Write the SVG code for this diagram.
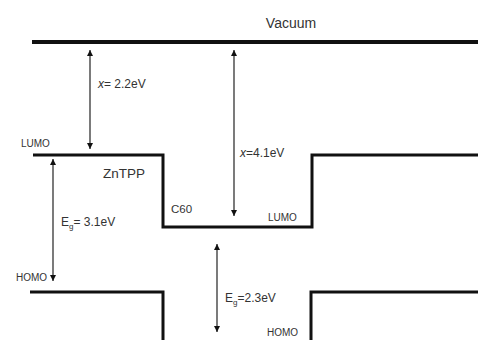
<svg xmlns="http://www.w3.org/2000/svg" width="478" height="340" viewBox="0 0 478 340">
<style>
text{font-family:"Liberation Sans",Arial,sans-serif;fill:#333}
.lvl{fill:none;stroke:#111;stroke-width:3}
.arr{stroke:#333;stroke-width:1.3;marker-start:url(#ah);marker-end:url(#ah)}
</style>
<defs>
<marker id="ah" viewBox="0 0 10 10" refX="10" refY="5" markerWidth="6" markerHeight="6" orient="auto-start-reverse" markerUnits="userSpaceOnUse">
<path d="M0,0 L10,5 L0,10 z" fill="#111"/>
</marker>
</defs>
<rect width="478" height="340" fill="#fff"/>
<g id="vacuum">
<line x1="32" y1="42" x2="478" y2="42" stroke="#111" stroke-width="4"/>
<text x="291" y="28" font-size="14" text-anchor="middle">Vacuum</text>
</g>
<g id="lumo">
<polyline class="lvl" points="33,155 163,155 163,227 312,227 312,155 478,155"/>
<text x="21" y="147" font-size="10">LUMO</text>
<text x="103" y="178" font-size="13.5">ZnTPP</text>
<text x="171" y="213" font-size="11.5">C60</text>
<text x="268" y="221" font-size="10">LUMO</text>
</g>
<g id="homo">
<polyline class="lvl" points="30,292 163,292 163,340"/>
<polyline class="lvl" points="311,340 311,292 478,292"/>
<text x="16" y="281" font-size="10">HOMO</text>
<text x="267" y="336" font-size="10">HOMO</text>
</g>
<g id="connectors">
<line class="arr" x1="90" y1="50" x2="90" y2="149"/>
<line class="arr" x1="234" y1="50" x2="234" y2="216"/>
<line class="arr" x1="53" y1="159" x2="53" y2="281"/>
<line class="arr" x1="217" y1="244" x2="217" y2="332"/>
</g>
<g id="labels">
<text x="98" y="88" font-size="12"><tspan font-style="italic">x</tspan>= 2.2eV</text>
<text x="240" y="157" font-size="12"><tspan font-style="italic">x</tspan>=4.1eV</text>
<text x="61" y="226" font-size="12">E<tspan font-size="8" dy="3">g</tspan><tspan dy="-3">= 3.1eV</tspan></text>
<text x="225" y="302" font-size="12">E<tspan font-size="8" dy="3">g</tspan><tspan dy="-3">=2.3eV</tspan></text>
</g>
</svg>
